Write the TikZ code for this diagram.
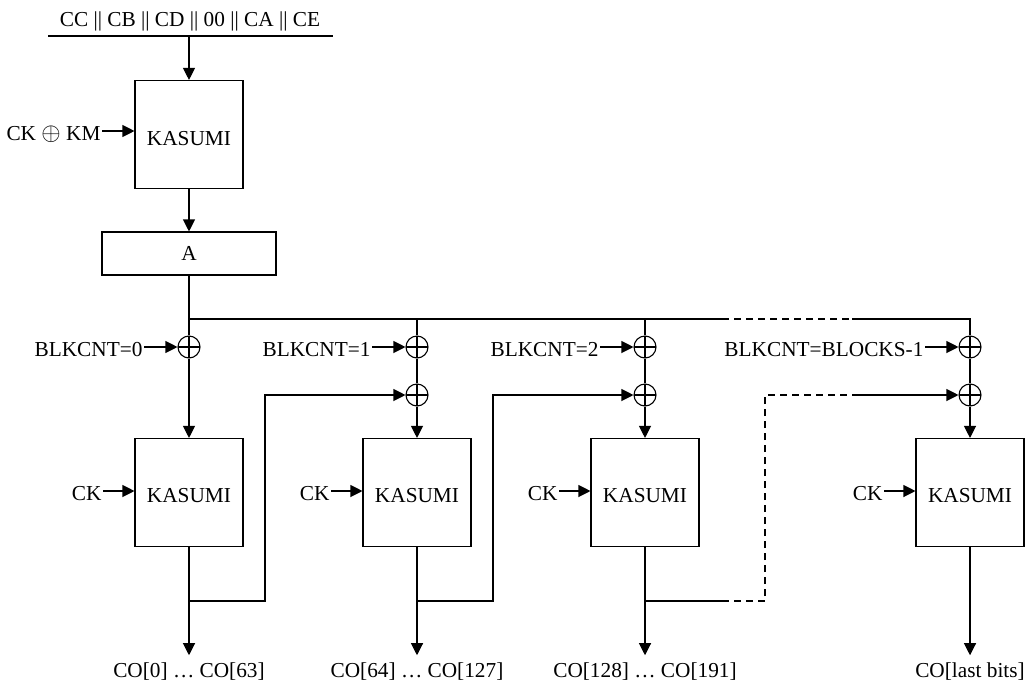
\documentclass[tikz,border=0pt]{standalone}
\usepackage{fontspec}
\setmainfont{Liberation Serif}
\usetikzlibrary{arrows.meta}
\begin{document}
\begin{tikzpicture}[x=1pt,y=-1pt,line width=1.1pt,
  >={Triangle[length=12pt,width=12pt]},
  font=\fontsize{21.3}{25}\selectfont,
  kbox/.style={draw,minimum width=108pt,minimum height=108pt,inner sep=0pt},
  klabel/.style={label={[yshift=#1]center:KASUMI}},
  abox/.style={draw,minimum width=174pt,minimum height=43pt,inner sep=0pt},
  xor/.style={draw,circle,minimum size=22pt,inner sep=0pt,
    path picture={\draw (path picture bounding box.north)--(path picture bounding box.south)
      (path picture bounding box.west)--(path picture bounding box.east);}},
  sidelbl/.style={anchor=east,text height=18pt,text depth=0pt,inner sep=1pt},
  outlbl/.style={anchor=base,inner sep=0pt,outer sep=7pt},
  dsh/.style={dash pattern=on 7pt off 5pt}]
\fill[white] (0,0) rectangle (1027,683);
\useasboundingbox (0,0) rectangle (1027,683);

% top part
\node[text height=14pt,text depth=0pt] (title) at (190,19) {CC || CB || CD || 00 || CA || CE};
\coordinate (tl) at (48,36);
\coordinate (tr) at (333,36);
\coordinate (tm) at (189,36);
\draw (tl) -- (tr);
\node[kbox,klabel=-4.5pt] (k0) at (189,134.5) {};
\node[sidelbl] (ckkm) at (102,131) {CK {\fontsize{27}{27}\selectfont$\oplus$} KM};
\draw[->] (ckkm.east) -- (ckkm.east -| k0.west);
\draw[->] (tm) -- (k0.north);
\node[abox] (A) at (189,253.5) {A};
\draw[->] (k0.south) -- (A.north);

% XOR nodes
\node[xor] (x0a) at (189,347) {};
\node[xor] (x1a) at (417,347) {};
\node[xor] (x1b) at (417,395) {};
\node[xor] (x2a) at (645,347) {};
\node[xor] (x2b) at (645,395) {};
\node[xor] (x3a) at (970,347) {};
\node[xor] (x3b) at (970,395) {};

% distribution line
\coordinate (jt) at (189,319);
\coordinate (da) at (722,319);
\coordinate (db) at (852,319);
\draw (A.south) -- (x0a.north);
\draw (jt) -- (da);
\draw[dsh] (da) -- (db);
\draw (db) -| (x3a.north);
\draw (x1a.north |- jt) -- (x1a.north);
\draw (x2a.north |- jt) -- (x2a.north);
\draw (x1a.south) -- (x1b.north);
\draw (x2a.south) -- (x2b.north);
\draw (x3a.south) -- (x3b.north);

% BLKCNT labels
\node[sidelbl] (b0) at (144,347) {BLKCNT=0};
\node[sidelbl] (b1) at (372,347) {BLKCNT=1};
\node[sidelbl] (b2) at (600,347) {BLKCNT=2};
\node[sidelbl] (b3) at (925,347) {BLKCNT=BLOCKS-1};
\draw[->] (b0.east) -- (x0a.west);
\draw[->] (b1.east) -- (x1a.west);
\draw[->] (b2.east) -- (x2a.west);
\draw[->] (b3.east) -- (x3a.west);

% KASUMI boxes
\node[kbox,klabel=-3.5pt] (k1) at (189,492.5) {};
\node[kbox,klabel=-3.5pt] (k2) at (417,492.5) {};
\node[kbox,klabel=-3.5pt] (k3) at (645,492.5) {};
\node[kbox,klabel=-3.5pt] (k4) at (970,492.5) {};
\draw[->] (x0a.south) -- (k1.north);
\draw[->] (x1b.south) -- (k2.north);
\draw[->] (x2b.south) -- (k3.north);
\draw[->] (x3b.south) -- (k4.north);

% CK labels
\node[sidelbl] (ck1) at (103,491) {CK};
\node[sidelbl] (ck2) at (331,491) {CK};
\node[sidelbl] (ck3) at (559,491) {CK};
\node[sidelbl] (ck4) at (884,491) {CK};
\draw[->] (ck1.east) -- (ck1.east -| k1.west);
\draw[->] (ck2.east) -- (ck2.east -| k2.west);
\draw[->] (ck3.east) -- (ck3.east -| k3.west);
\draw[->] (ck4.east) -- (ck4.east -| k4.west);

% outputs
\node[outlbl] (o1) at (189,677) {CO[0] … CO[63]};
\node[outlbl] (o2) at (417,677) {CO[64] … CO[127]};
\node[outlbl] (o3) at (645,677) {CO[128] … CO[191]};
\node[outlbl] (o4) at (970,677) {CO[last bits]};
\draw[->] (k1.south) -- (o1.north);
\draw[->] (k2.south) -- (o2.north);
\draw[->] (k3.south) -- (o3.north);
\draw[->] (k4.south) -- (o4.north);

% feedback
\coordinate (j1) at (189,601);
\coordinate (j2) at (417,601);
\coordinate (j3) at (645,601);
\coordinate (f1) at (265,601);
\coordinate (f2) at (493,601);
\coordinate (f3a) at (722,601);
\coordinate (f3b) at (765,395);
\coordinate (f3c) at (852,395);
\draw[->] (j1) -- (f1) |- (x1b.west);
\draw[->] (j2) -- (f2) |- (x2b.west);
\draw (j3) -- (f3a);
\draw[dsh] (f3a) -| (f3b) -- (f3c);
\draw[->] (f3c) -- (x3b.west);
\end{tikzpicture}
\end{document}
